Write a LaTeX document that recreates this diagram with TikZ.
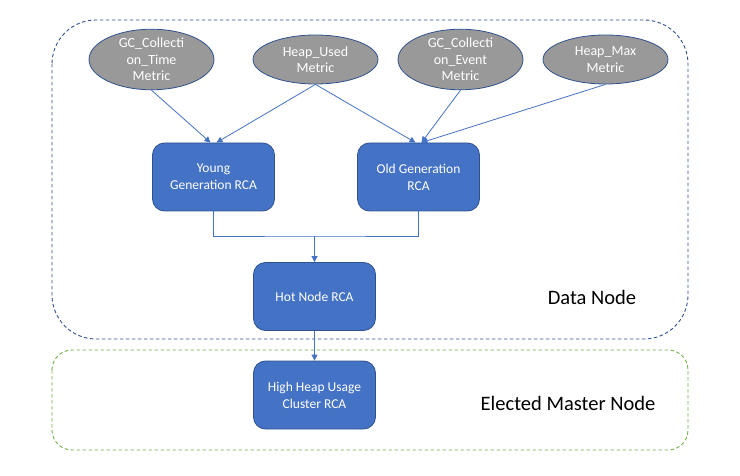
\documentclass[tikz,border=0pt]{standalone}
\usepackage{fontspec}
\setmainfont{Carlito}
\usetikzlibrary{shapes.geometric,arrows.meta}
\definecolor{boxblue}{HTML}{4472C4}
\definecolor{edgeblue}{HTML}{2F528F}
\definecolor{metricgray}{HTML}{999999}
\definecolor{linkblue}{HTML}{4472C4}
\definecolor{dnblue}{HTML}{2F4F8F}
\definecolor{mgreen}{HTML}{70AD47}
\tikzset{
  metric/.style={ellipse, draw=edgeblue, line width=0.8pt, fill=metricgray, text=white,
    minimum width=125pt, minimum height=49pt, inner sep=0pt, align=center,
    font=\fontsize{14pt}{16.5pt}\selectfont},
  rca/.style={rectangle, rounded corners=12pt, draw=edgeblue, line width=0.8pt, fill=boxblue, text=white,
    minimum width=122pt, minimum height=68pt, inner sep=0pt, align=center,
    font=\fontsize{13.5pt}{17pt}\selectfont},
  link/.style={draw=linkblue, line width=0.8pt},
  arr/.style={link, -{Triangle[length=6pt,width=6pt]}},
  zone/.style={dashed, dash pattern=on 3.5pt off 2.5pt, line width=0.9pt},
  zonelabel/.style={font=\fontsize{20.5pt}{24pt}\selectfont, text=black}
}
\begin{document}
\begin{tikzpicture}[x=1pt,y=-1pt]
\useasboundingbox (0,0) rectangle (740,476);
% zones
\draw[zone, draw=dnblue, rounded corners=44pt] (52,20) rectangle (688,339);
\draw[zone, draw=mgreen, rounded corners=20pt] (52,350) rectangle (688,450);
\node[zonelabel] (dnlabel) at (592,297) {Data Node};
\node[zonelabel] (emlabel) at (568,403) {Elected Master Node};
% metrics
\node[metric] (gct) at (151.5,59.5) {GC\_Collecti\\on\_Time\\Metric};
\node[metric] (hu)  at (315.5,59.5) {Heap\_Used\\Metric};
\node[metric] (gce) at (460.5,59.5) {GC\_Collecti\\on\_Event\\Metric};
\node[metric] (hm)  at (605.5,59.5) {Heap\_Max\\Metric};
% RCAs
\node[rca] (young) at (213.5,177) {Young\\Generation RCA};
\node[rca] (old)   at (418.5,177) {Old Generation\\RCA};
\node[rca] (hot)   at (314.5,296.5) {Hot Node RCA};
\node[rca] (heap)  at (314.5,395) {High Heap Usage\\Cluster RCA};
% connectors
\coordinate (yl) at ([xshift=-3pt]young.north);
\coordinate (yr) at ([xshift=3pt]young.north);
\coordinate (ol) at ([xshift=-3pt]old.north);
\coordinate (or) at ([xshift=3pt]old.north);
\draw[arr] (gct.south) -- (yl);
\draw[arr] (hu.south) -- (yr);
\draw[arr] (hu.south) -- (ol);
\draw[arr] (gce.south) -- (or);
\draw[arr] (hm.south) -- (or);
\coordinate (join) at (314.5,236);
\draw[link] (young.south) |- (join) -| (old.south);
\draw[arr] (join) -- (hot.north);
\draw[arr] (hot.south) -- (heap.north);
\end{tikzpicture}
\end{document}
